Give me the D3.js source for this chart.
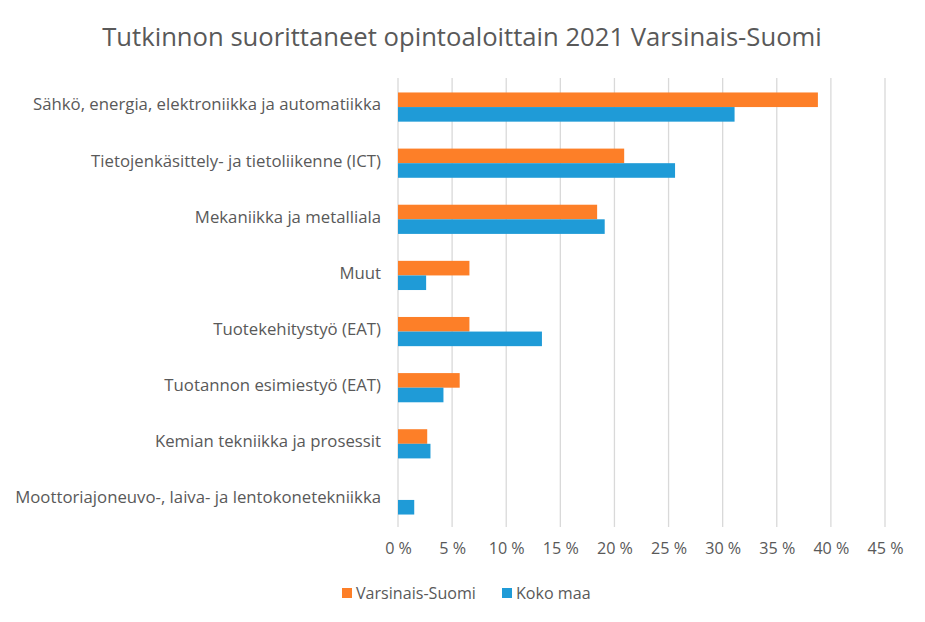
<!DOCTYPE html>
<html><head><meta charset="utf-8">
<script src="https://cdn.jsdelivr.net/npm/d3@7"></script>
<style>body{margin:0;background:#fff}svg{display:block}</style>
</head><body>
<svg id="c" width="925" height="622"></svg>
<script>
const categories = [
  "Sähkö, energia, elektroniikka ja automatiikka",
  "Tietojenkäsittely- ja tietoliikenne (ICT)",
  "Mekaniikka ja metalliala",
  "Muut",
  "Tuotekehitystyö (EAT)",
  "Tuotannon esimiestyö (EAT)",
  "Kemian tekniikka ja prosessit",
  "Moottoriajoneuvo-, laiva- ja lentokonetekniikka"
];
const seriesNames = ["Varsinais-Suomi", "Koko maa"];
const varsinaisSuomi = [38.8, 20.9, 18.4, 6.6, 6.6, 5.7, 2.7, 0];
const kokoMaa = [31.1, 25.6, 19.1, 2.6, 13.3, 4.2, 3.0, 1.5];
const xTicks = [0, 5, 10, 15, 20, 25, 30, 35, 40, 45];
const colors = ["#fd7f28", "#1f9bd7"];
const title = "Tutkinnon suorittaneet opintoaloittain 2021 Varsinais-Suomi";

const svg = d3.select("#c");
const font = "'Open Sans', 'Noto Sans', sans-serif";
const textColor = "#595959";
const m = {left: 398, top: 79};

const x = d3.scaleLinear().domain([0, 45]).range([m.left, 885]);
const y = d3.scaleBand().domain(categories).range([m.top, 528]).paddingInner(0.48).paddingOuter(0.24);
const y2 = d3.scaleBand().domain(seriesNames).range([0, y.bandwidth()]);

function fitSize(text, target, base) {
  const t = svg.append("text").attr("font-family", font).attr("font-size", base).text(text);
  const w = t.node().getComputedTextLength();
  t.remove();
  return base * target / w;
}
const labelSize = fitSize(categories[7], 366, 15);
const titleSize = fitSize(title, 720, 24);
const tickSize = fitSize("10 %", 36, 15);
const legendSize = fitSize("Varsinais-Suomi", 120, 15);

svg.append("text").attr("x", 462).attr("y", 46).attr("text-anchor", "middle")
  .attr("font-family", font).attr("font-size", titleSize).attr("fill", textColor).text(title);

svg.append("g").selectAll("line").data(xTicks).join("line")
  .attr("x1", d => x(d)).attr("x2", d => x(d))
  .attr("y1", m.top - 1).attr("y2", 527)
  .attr("stroke", "#d9d9d9").attr("stroke-width", 1.3);

const xAxis = d3.axisBottom(x).tickValues(xTicks).tickSize(0).tickFormat(d => d + " %");
const ax = svg.append("g").attr("transform", "translate(0,540)").call(xAxis);
ax.select(".domain").remove();
ax.selectAll("text").attr("font-family", font).attr("font-size", tickSize).attr("fill", textColor);

const yAxis = d3.axisLeft(y).tickSize(0).tickPadding(17);
const ay = svg.append("g").attr("transform", `translate(${m.left},-2)`).call(yAxis);
ay.select(".domain").remove();
ay.selectAll("text").attr("font-family", font).attr("font-size", labelSize).attr("fill", textColor);

const data = categories.map((c, i) => ({c, vals: [varsinaisSuomi[i], kokoMaa[i]]}));
const grp = svg.append("g").selectAll("g").data(data).join("g")
  .attr("transform", d => `translate(0,${y(d.c)})`);
grp.selectAll("rect").data(d => d.vals.map((v, j) => ({v, s: seriesNames[j], j}))).join("rect")
  .attr("x", x(0)).attr("y", d => y2(d.s))
  .attr("width", d => x(d.v) - x(0)).attr("height", y2.bandwidth())
  .attr("fill", d => colors[d.j]);

const legendX = [342, 502];
const lg = svg.append("g").selectAll("g").data(seriesNames).join("g")
  .attr("transform", (d, i) => `translate(${legendX[i]},593)`);
lg.append("rect").attr("x", 0).attr("y", -5).attr("width", 10).attr("height", 10)
  .attr("fill", (d, i) => colors[i]);
lg.append("text").attr("x", 14).attr("y", 0).attr("dy", "0.35em")
  .attr("font-family", font).attr("font-size", legendSize).attr("fill", textColor).text(d => d);
</script>
</body></html>
